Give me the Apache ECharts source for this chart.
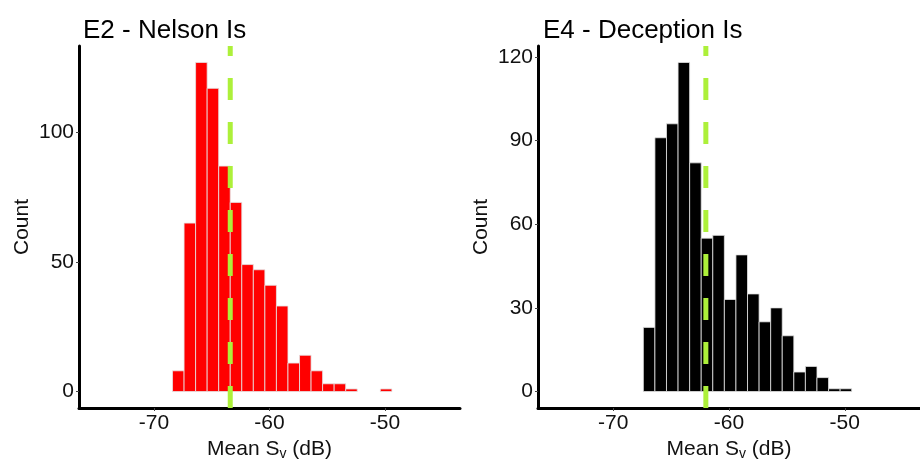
<!DOCTYPE html>
<html>
<head>
<meta charset="utf-8">
<title>Mean Sv histograms</title>
<script src="https://cdn.jsdelivr.net/npm/echarts@6/dist/echarts.min.js"></script>
<style>
  html, body { margin: 0; padding: 0; background: #fff; }
  #chart { width: 920px; height: 459px; }
</style>
</head>
<body>
<div id="chart"></div>
<script>
// bin left edges (dB), bins are 1 dB wide
const binWidth = 1
const nelsonBins = [-68.4, -67.4, -66.4, -65.4, -64.4, -63.4, -62.4, -61.4, -60.4, -59.4,
  -58.4, -57.4, -56.4, -55.4, -54.4, -53.4, -52.4, -51.4, -50.4]
const nelsonCounts = [8, 65, 127, 117, 87, 73, 49, 47, 41, 33, 11, 14, 8, 3, 3, 1, 0, 0, 1]
const deceptionBins = [-67.4, -66.4, -65.4, -64.4, -63.4, -62.4, -61.4, -60.4, -59.4,
  -58.4, -57.4, -56.4, -55.4, -54.4, -53.4, -52.4, -51.4, -50.4]
const deceptionCounts = [23, 91, 96, 118, 82, 55, 56, 33, 49, 35, 25, 30, 20, 7, 9, 5, 1, 1]

// mean Sv marked by the dashed line
const nelsonMean = -63.4
const deceptionMean = -62.0

// axis ticks
const xTicks = [-70, -60, -50]
const nelsonYTicks = [0, 50, 100]
const deceptionYTicks = [0, 30, 60, 90, 120]

const xRange = [-76.5, -43.5]
const nelsonYRange = [-6.35, 133.35]
const deceptionYRange = [-5.9, 123.9]

const FONT = 'Liberation Sans, Arial, sans-serif'

function histData(bins, counts) {
  const out = []
  bins.forEach((b, i) => {
    if (counts[i] > 0) out.push([b, b + binWidth, counts[i]])
  })
  return out
}

function histSeries(idx, bins, counts, color) {
  return {
    type: 'custom',
    xAxisIndex: idx,
    yAxisIndex: idx,
    data: histData(bins, counts),
    encode: { x: [0, 1], y: 2 },
    renderItem: (params, api) => {
      const p0 = api.coord([api.value(0), 0])
      const p1 = api.coord([api.value(1), api.value(2)])
      return {
        type: 'rect',
        shape: { x: p0[0], y: p1[1], width: p1[0] - p0[0], height: p0[1] - p1[1] },
        style: { fill: color, stroke: '#e4e4e4', lineWidth: 0.8 }
      }
    },
    z: 2
  }
}

function meanLine(idx, mean, yRange) {
  return {
    type: 'line',
    xAxisIndex: idx,
    yAxisIndex: idx,
    data: [[mean, yRange[0]], [mean, yRange[1]]],
    symbol: 'none',
    silent: true,
    lineStyle: { color: '#adf03a', width: 5, type: [22, 22] },
    z: 5
  }
}

function xAxis(idx) {
  return {
    type: 'value',
    gridIndex: idx,
    min: xRange[0],
    max: xRange[1],
    name: 'Mean S{sub|v} (dB)',
    nameLocation: 'middle',
    nameGap: 27,
    nameTextStyle: {
      color: '#111', fontSize: 21, fontFamily: FONT,
      rich: { sub: { fontSize: 14, fontFamily: FONT, color: '#111', padding: [10, 0, 0, 0] } }
    },
    splitLine: { show: false },
    axisLine: { onZero: false, lineStyle: { color: '#000', width: 3 } },
    axisTick: { customValues: xTicks, length: 3, lineStyle: { color: '#444', width: 1 } },
    axisLabel: { customValues: xTicks, margin: 5, color: '#111', fontSize: 21, fontFamily: FONT }
  }
}

function yAxis(idx, range, ticks) {
  return {
    type: 'value',
    gridIndex: idx,
    min: range[0],
    max: range[1],
    name: 'Count',
    nameLocation: 'middle',
    nameGap: 46,
    nameTextStyle: { color: '#111', fontSize: 21, fontFamily: FONT },
    splitLine: { show: false },
    axisLine: { show: true, onZero: false, lineStyle: { color: '#000', width: 3 } },
    axisTick: { show: true, customValues: ticks, length: 3, lineStyle: { color: '#444', width: 1 } },
    axisLabel: { customValues: ticks, margin: 5, color: '#111', fontSize: 21, fontFamily: FONT }
  }
}

const chart = echarts.init(document.getElementById('chart'), null, { renderer: 'canvas' })

chart.setOption({
  backgroundColor: '#fff',
  animation: false,
  title: [
    { text: 'E2 - Nelson Is', left: 78, top: 13, textStyle: { color: '#000', fontSize: 26, fontWeight: 'normal', fontFamily: FONT } },
    { text: 'E4 - Deception Is', left: 538, top: 13, textStyle: { color: '#000', fontSize: 26, fontWeight: 'normal', fontFamily: FONT } }
  ],
  grid: [
    { left: 79, top: 46, width: 381, height: 362, outerBoundsMode: 'none', containLabel: false },
    { left: 538, top: 46, width: 382, height: 362, outerBoundsMode: 'none', containLabel: false }
  ],
  xAxis: [xAxis(0), xAxis(1)],
  yAxis: [yAxis(0, nelsonYRange, nelsonYTicks), yAxis(1, deceptionYRange, deceptionYTicks)],
  series: [
    histSeries(0, nelsonBins, nelsonCounts, '#ff0000'),
    histSeries(1, deceptionBins, deceptionCounts, '#000000'),
    meanLine(0, nelsonMean, nelsonYRange),
    meanLine(1, deceptionMean, deceptionYRange)
  ]
})
</script>
</body>
</html>
